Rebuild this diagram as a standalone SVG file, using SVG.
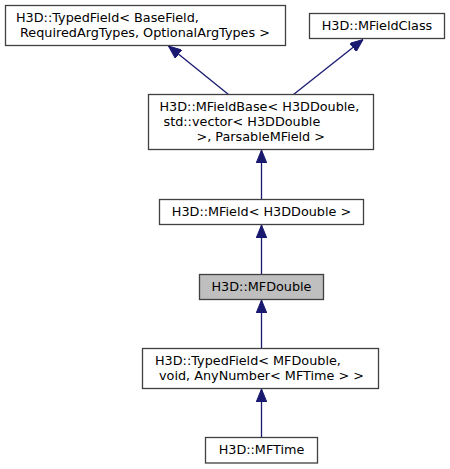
<svg xmlns="http://www.w3.org/2000/svg" width="450" height="469" viewBox="0 0 450 469">
<style>
.box{fill:#ffffff;stroke:#404040;stroke-width:1.3}
.cur{fill:#bfbfbf;stroke:#404040;stroke-width:1.3}
text{font-family:"DejaVu Sans","Liberation Sans",sans-serif;font-size:12.8px;fill:#000}
.c{text-anchor:middle}
.edge{stroke:#191970;stroke-width:1.3;fill:none;marker-end:url(#ah)}
</style>
<defs>
<marker id="ah" viewBox="0 0 13 10.6" refX="13" refY="5.3" markerWidth="13" markerHeight="10.6" markerUnits="userSpaceOnUse" orient="auto">
<path d="M0,0 L13,5.3 L0,10.6 z" fill="#191970" stroke="#191970" stroke-width="1"/>
</marker>
</defs>
<rect width="450" height="469" fill="#ffffff"/>
<g id="edges">
<path class="edge" d="M228.5,94.5 L168.5,46"/>
<path class="edge" d="M293.5,94.5 L363,39.5"/>
<path class="edge" d="M261.5,199.5 L261.5,150"/>
<path class="edge" d="M261.5,274.5 L261.5,225"/>
<path class="edge" d="M261.5,348.5 L261.5,300"/>
<path class="edge" d="M261.5,437.5 L261.5,389"/>
</g>
<g id="node_typedfield_base">
<rect class="box" x="5.5" y="5.5" width="280" height="40"/>
<text x="16" y="21.5">H3D::TypedField&lt; BaseField,</text>
<text x="20" y="36.5">RequiredArgTypes, OptionalArgTypes &gt;</text>
</g>
<g id="node_mfieldclass">
<rect class="box" x="309.5" y="13.5" width="135" height="25"/>
<text class="c" x="377" y="30">H3D::MFieldClass</text>
</g>
<g id="node_mfieldbase">
<rect class="box" x="148.5" y="94.5" width="225" height="55"/>
<text x="159.5" y="110.5">H3D::MFieldBase&lt; H3DDouble,</text>
<text x="163.5" y="125.5">std::vector&lt; H3DDouble</text>
<text x="196.5" y="140.5">&gt;, ParsableMField &gt;</text>
</g>
<g id="node_mfield">
<rect class="box" x="159.5" y="199.5" width="204" height="25"/>
<text class="c" x="261.5" y="215.5">H3D::MField&lt; H3DDouble &gt;</text>
</g>
<g id="node_mfdouble">
<rect class="cur" x="199.5" y="274.5" width="124" height="25"/>
<text class="c" x="261.5" y="290.5">H3D::MFDouble</text>
</g>
<g id="node_typedfield_mfdouble">
<rect class="box" x="142.5" y="348.5" width="236" height="40"/>
<text x="155" y="365">H3D::TypedField&lt; MFDouble,</text>
<text x="159" y="380">void, AnyNumber&lt; MFTime &gt; &gt;</text>
</g>
<g id="node_mftime">
<rect class="box" x="205.5" y="437.5" width="112" height="25.5"/>
<text class="c" x="261.5" y="453.5">H3D::MFTime</text>
</g>
</svg>
